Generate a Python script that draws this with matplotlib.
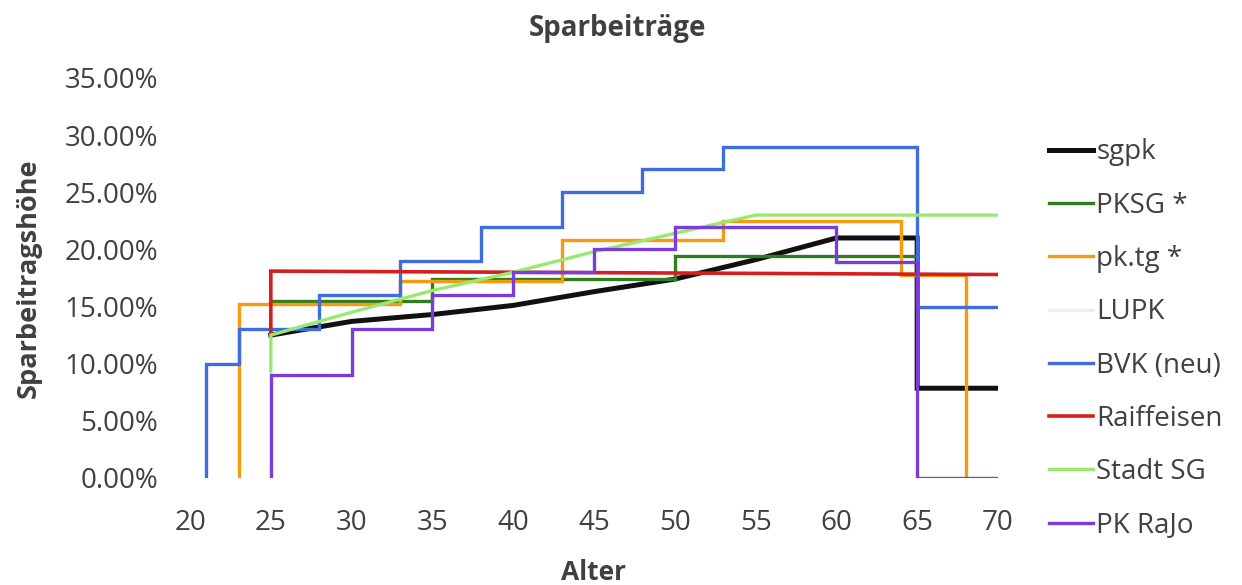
import matplotlib
matplotlib.use("Agg")
import matplotlib.pyplot as plt
from matplotlib.ticker import PercentFormatter

plt.rcParams['font.family'] = ['Open Sans', 'DejaVu Sans']

# savings contribution (% of insured salary) by age, one step line per fund
sgpk_age = [25, 30, 35, 40, 45, 50, 55, 60, 65, 65, 70]
sgpk_val = [12.5, 13.7, 14.3, 15.1, 16.3, 17.4, 19.1, 21.0, 21.0, 7.85, 7.85]

pksg_age = [25, 35, 35, 50, 50, 65]
pksg_val = [15.5, 15.5, 17.4, 17.4, 19.4, 19.4]

pktg_age = [23, 23, 33, 33, 43, 43, 53, 53, 64, 64, 68, 68]
pktg_val = [0, 15.2, 15.2, 17.2, 17.2, 20.8, 20.8, 22.5, 22.5, 17.8, 17.8, 0]

lupk_age = []
lupk_val = []

bvk_age = [21, 21, 23, 23, 28, 28, 33, 33, 38, 38, 43, 43, 48, 48, 53, 53, 65, 65, 70]
bvk_val = [0, 10, 10, 13, 13, 16, 16, 19, 19, 22, 22, 25, 25, 27, 27, 29, 29, 15, 15]

raiff_age = [25, 25, 70]
raiff_val = [12.6, 18.1, 17.8]

stadt_age = [25, 25, 30, 35, 40, 45, 50, 55, 70]
stadt_val = [9.3, 12.5, 14.5, 16.4, 18.0, 19.8, 21.4, 23.0, 23.0]

rajo_age = [25, 25, 30, 30, 35, 35, 40, 40, 45, 45, 50, 50, 60, 60, 65, 65, 70]
rajo_val = [0, 9, 9, 13, 13, 16, 16, 18, 18, 20, 20, 22, 22, 18.9, 18.9, 0, 0]

series = [
    ('sgpk', sgpk_age, sgpk_val, '#111111', 3.6),
    ('PKSG *', pksg_age, pksg_val, '#2f7d1c', 2.4),
    ('pk.tg *', pktg_age, pktg_val, '#f79a0c', 2.4),
    ('LUPK', lupk_age, lupk_val, '#eeeeee', 2.4),
    ('BVK (neu)', bvk_age, bvk_val, '#3f6de0', 2.4),
    ('Raiffeisen', raiff_age, raiff_val, '#d21f1f', 2.6),
    ('Stadt SG', stadt_age, stadt_val, '#9ae86e', 2.4),
    ('PK RaJo', rajo_age, rajo_val, '#7a3ddc', 2.4),
]

text_color = '#404040'

fig = plt.figure(figsize=(12.42, 5.85), dpi=100)
ax = fig.add_axes([0.153, 0.183, 0.6505, 0.6837])

for name, ages, vals, color, lw in series:
    ax.plot(ages, vals, color=color, lw=lw, label=name, solid_joinstyle='miter')

ax.set_xlim(20, 70)
ax.set_ylim(0, 35)
ax.set_xticks(range(20, 71, 5))
ax.set_yticks(range(0, 36, 5))
ax.yaxis.set_major_formatter(PercentFormatter(xmax=100, decimals=2))

for side in ['top', 'right', 'bottom', 'left']:
    ax.spines[side].set_visible(False)
ax.tick_params(axis='both', length=0, labelsize=20, colors=text_color)
ax.tick_params(axis='y', pad=23)
ax.tick_params(axis='x', pad=22)

ax.set_xlabel('Alter', fontsize=19, fontweight='bold', color=text_color, labelpad=16)
ax.set_ylabel('Sparbeitragshöhe', fontsize=19.5, fontweight='bold', color=text_color, labelpad=16)
fig.text(0.497, 0.952, 'Sparbeiträge', ha='center', va='center',
         fontsize=20, fontweight='bold', color=text_color)

fig.legend(loc='upper left', bbox_to_anchor=(0.8245, 0.806), frameon=False,
           fontsize=20, handlelength=1.6, handletextpad=0.1,
           labelspacing=0.91, labelcolor=text_color)

fig.savefig('out.png', dpi=100, facecolor='white')
